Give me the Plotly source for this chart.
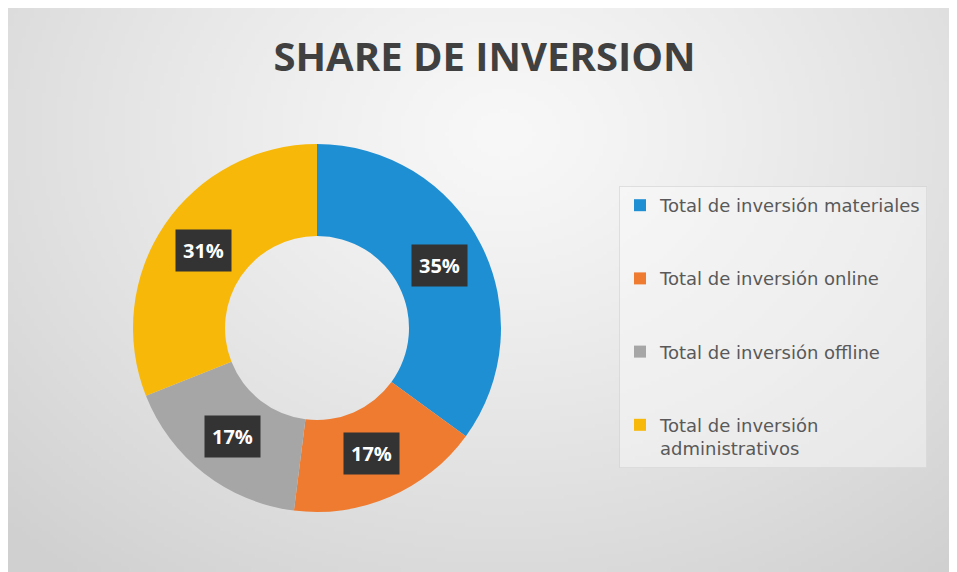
import base64, struct, zlib
import numpy as np
import plotly.graph_objects as go

# page is rendered with an 8px body margin, so figure coords = page coords - 8
OFF = 8
W, H = 957 - OFF, 572 - OFF

# ---- data ----
categories = [
    "Total de inversión materiales",
    "Total de inversión online",
    "Total de inversión offline",
    "Total de inversión<br>administrativos",
]
values = [35, 17, 17, 31]
colors = ["#1f8fd3", "#ee7b30", "#a6a6a6", "#f7b80a"]
title_text = "SHARE DE INVERSION"


# ---- background gradient image (style only) ----
def gradient_png(w, h):
    yy, xx = np.mgrid[0:h, 0:w]
    cx, cy = 0.52 * w, 0.22 * h
    d = np.sqrt(((xx - cx) / (0.75 * w)) ** 2 + ((yy - cy) / (1.0 * h)) ** 2)
    d = np.clip(d, 0, 1)
    v = 248 - (248 - 208) * d ** 1.2
    v = v.astype(np.uint8)
    raw = b"".join(b"\x00" + bytes(np.repeat(row, 3)) for row in v)

    def chunk(t, data):
        c = struct.pack(">I", len(data)) + t + data
        return c + struct.pack(">I", zlib.crc32(t + data) & 0xffffffff)

    png = b"\x89PNG\r\n\x1a\n" + chunk(b"IHDR", struct.pack(">IIBBBBB", w, h, 8, 2, 0, 0, 0))
    png += chunk(b"IDAT", zlib.compress(raw, 9)) + chunk(b"IEND", b"")
    return "data:image/png;base64," + base64.b64encode(png).decode()


# pie geometry (figure pixels)
cx_px, cy_px, R_px = 317 - OFF, 328 - OFF, 184
dom_x = [(cx_px - R_px) / W, (cx_px + R_px) / W]
dom_y = [1 - (cy_px + R_px) / H, 1 - (cy_px - R_px) / H]

legend_labels = [
    c + ("<br>&nbsp;<br>&nbsp;" if i < len(categories) - 1 else "")
    for i, c in enumerate(categories)
]

fig = go.Figure(
    go.Pie(
        labels=legend_labels,
        values=values,
        hole=0.5,
        sort=False,
        direction="clockwise",
        rotation=0,
        marker=dict(colors=colors, line=dict(width=0)),
        textinfo="none",
        domain=dict(x=dom_x, y=dom_y),
        hoverinfo="label+percent",
    )
)

# percentage labels in dark boxes, placed at each slice's mid-angle
total = sum(values)
cum = 0
r_lab = 0.745 * R_px
for v in values:
    mid = (cum + v / 2) / total * 2 * np.pi
    cum += v
    px = cx_px + r_lab * np.sin(mid)
    py = cy_px - r_lab * np.cos(mid)
    fig.add_annotation(
        x=px / W, y=1 - py / H, xref="paper", yref="paper",
        text="<b>%d%%</b>" % round(v / total * 100),
        showarrow=False,
        font=dict(family="Open Sans", size=20, color="#ffffff"),
        bgcolor="#333333", borderpad=7,
        xanchor="center", yanchor="middle",
    )

fig.update_layout(
    width=W, height=H, autosize=False,
    margin=dict(l=0, r=0, t=0, b=0),
    paper_bgcolor="#ffffff",
    plot_bgcolor="rgba(0,0,0,0)",
    title=dict(
        text="<b>%s</b>" % title_text,
        x=(484.5 - OFF) / W, xanchor="center", y=1 - (57 - OFF) / H, yanchor="middle",
        font=dict(family="Open Sans", size=40, color="#404040"),
    ),
    legend=dict(
        x=(619 - OFF) / W, xanchor="left", y=1 - (186 - OFF) / H, yanchor="top",
        bgcolor="rgba(250,250,250,0.45)",
        bordercolor="rgba(210,210,210,0.6)", borderwidth=1,
        font=dict(family="DejaVu Sans", size=18, color="#595959"),
        valign="top",
        itemclick=False, itemdoubleclick=False,
    ),
    images=[dict(
        source=gradient_png(240, 143), xref="paper", yref="paper",
        x=0, y=1, sizex=1, sizey=1,
        xanchor="left", yanchor="top", sizing="stretch", layer="below",
    )],
)

fig.write_html("out.html")
